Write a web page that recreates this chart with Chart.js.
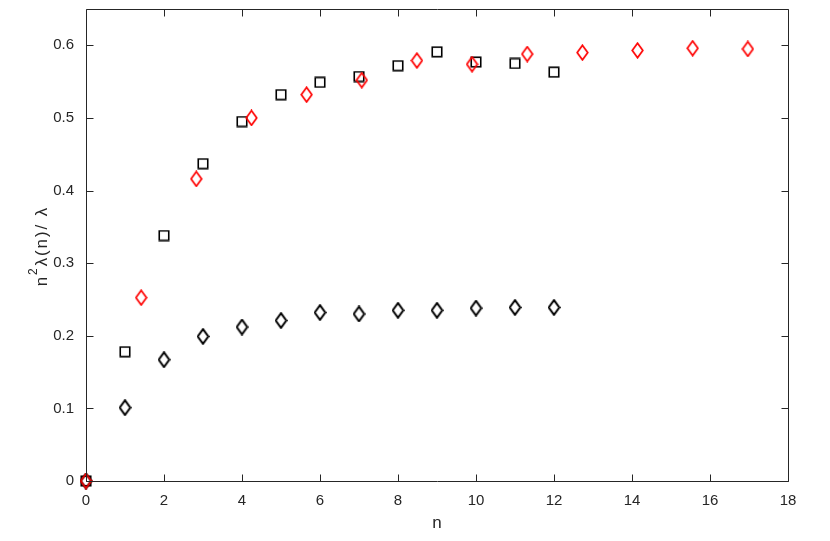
<!DOCTYPE html>
<html>
<head>
<meta charset="utf-8">
<script src="https://cdn.jsdelivr.net/npm/chart.js@4/dist/chart.umd.min.js"></script>
<style>
  html, body { margin: 0; padding: 0; background: #fff; }
  #wrap { width: 830px; height: 541px; }
</style>
</head>
<body>
<div id="wrap"><canvas id="c" width="830" height="541"></canvas></div>
<script>
// ---- data ----
const nValues = [0, 1, 2, 3, 4, 5, 6, 7, 8, 9, 10, 11, 12];
const squareValues = [0, 0.178, 0.338, 0.437, 0.495, 0.532, 0.549, 0.557, 0.572, 0.591, 0.577, 0.575, 0.563];
const blackDiamondValues = [0, 0.101, 0.167, 0.199, 0.212, 0.221, 0.232, 0.230, 0.235, 0.235, 0.238, 0.239, 0.239];
const redX = [0, 1.414, 2.828, 4.243, 5.657, 7.071, 8.485, 9.899, 11.314, 12.728, 14.142, 15.556, 16.971];
const redValues = [0, 0.2525, 0.416, 0.500, 0.532, 0.552, 0.579, 0.574, 0.588, 0.590, 0.593, 0.596, 0.595];
const xTicks = [0, 2, 4, 6, 8, 10, 12, 14, 16, 18];
const yTicks = [0, 0.1, 0.2, 0.3, 0.4, 0.5, 0.6];
const xTitle = 'n';
// y title pieces: [text, superscript?]
const yTitleParts = [['n', false], ['2', true], ['\u03BB(n)/ \u03BB', false]];

// ---- marker images ----
function squareMarker(color) {
  const c = document.createElement('canvas');
  c.width = 12; c.height = 12;
  const g = c.getContext('2d');
  g.strokeStyle = color; g.lineWidth = 1.6;
  g.strokeRect(1.25, 1.25, 9.5, 9.5);
  return c;
}
function diamondMarker(color, lw) {
  const c = document.createElement('canvas');
  c.width = 13; c.height = 17;
  const g = c.getContext('2d');
  g.strokeStyle = color; g.lineWidth = lw; g.lineJoin = 'miter';
  g.beginPath();
  g.moveTo(6.5, 1.2); g.lineTo(11.8, 8.5); g.lineTo(6.5, 15.8); g.lineTo(1.2, 8.5); g.closePath();
  g.stroke();
  return c;
}

function pts(xs, ys) { return xs.map((x, i) => ({ x: x, y: ys[i] })); }

const axisColor = '#262626';
const FONT = 'Liberation Sans, Arial, sans-serif';

const boxPlugin = {
  id: 'box',
  afterDraw(chart) {
    const ctx = chart.ctx;
    const a = chart.chartArea;
    const xs = chart.scales.x, ys = chart.scales.y;
    ctx.save();
    ctx.strokeStyle = axisColor;
    ctx.lineWidth = 1;
    const L = Math.round(a.left) + 0.5, R = Math.round(a.right) + 0.5;
    const T = Math.round(a.top) + 0.5, B = Math.round(a.bottom) + 0.5;
    ctx.beginPath();
    ctx.rect(L, T, R - L, B - T);
    const tl = 7;
    xTicks.forEach(v => {
      const px = Math.round(xs.getPixelForValue(v)) + 0.5;
      ctx.moveTo(px, B); ctx.lineTo(px, B - tl);
      ctx.moveTo(px, T); ctx.lineTo(px, T + tl);
    });
    yTicks.forEach(v => {
      const py = Math.round(ys.getPixelForValue(v)) + 0.5;
      ctx.moveTo(L, py); ctx.lineTo(L + tl, py);
      ctx.moveTo(R, py); ctx.lineTo(R - tl, py);
    });
    ctx.stroke();

    // y-axis title with a real superscript
    const mainFont = '17px ' + FONT, supFont = '12px ' + FONT;
    const gap = 1.9;
    ctx.fillStyle = axisColor;
    ctx.textBaseline = 'alphabetic';
    ctx.textAlign = 'left';
    let total = 0;
    yTitleParts.forEach(([t, sup]) => {
      ctx.font = sup ? supFont : mainFont;
      for (const ch of t) total += ctx.measureText(ch).width + gap;
    });
    total -= gap;
    ctx.translate(47, (a.top + a.bottom) / 2 + 2);
    ctx.rotate(-Math.PI / 2);
    let cx = -total / 2;
    yTitleParts.forEach(([t, sup]) => {
      ctx.font = sup ? supFont : mainFont;
      const dy = sup ? -10 : 0;
      for (const ch of t) {
        ctx.fillText(ch, cx, dy);
        cx += ctx.measureText(ch).width + gap;
      }
    });
    ctx.restore();
  }
};

new Chart(document.getElementById('c'), {
  type: 'scatter',
  data: {
    datasets: [
      { label: 'red', data: pts(redX, redValues), pointStyle: diamondMarker('#ff0000', 1.7), pointRadius: 6, borderColor: '#ff0000', backgroundColor: 'transparent', clip: false },
      { label: 'squares', data: pts(nValues, squareValues), pointStyle: squareMarker('#000000'), pointRadius: 6, borderColor: '#000', backgroundColor: 'transparent', clip: false },
      { label: 'diamonds', data: pts(nValues, blackDiamondValues), pointStyle: diamondMarker('#000000', 2), pointRadius: 6, borderColor: '#000', backgroundColor: 'transparent', clip: false }
    ]
  },
  options: {
    responsive: false,
    animation: false,
    events: [],
    layout: { padding: { top: 9, right: 42, left: 0, bottom: 0 } },
    plugins: { legend: { display: false }, tooltip: { enabled: false } },
    scales: {
      x: {
        type: 'linear', min: 0, max: 18,
        afterBuildTicks: s => { s.ticks = xTicks.map(v => ({ value: v })); },
        afterFit: s => { s.height = 60; s.paddingLeft = 0; s.paddingRight = 0; },
        grid: { display: false, drawTicks: false },
        border: { display: false },
        ticks: { color: axisColor, padding: 11, font: { family: FONT, size: 15 }, maxRotation: 0, autoSkip: false, callback: v => String(v) },
        title: { display: true, text: xTitle, color: axisColor, font: { family: FONT, size: 17 }, padding: { top: 0, bottom: 7 } }
      },
      y: {
        type: 'linear', min: 0, max: 0.65,
        afterBuildTicks: s => { s.ticks = yTicks.map(v => ({ value: v })); },
        afterFit: s => { s.width = 86; s.paddingTop = 0; s.paddingBottom = 0; },
        grid: { display: false, drawTicks: false },
        border: { display: false },
        ticks: { color: axisColor, padding: 12, font: { family: FONT, size: 15 }, autoSkip: false, callback: v => String(Math.round(v * 10) / 10) },
        title: { display: false }
      }
    }
  },
  plugins: [boxPlugin]
});
</script>
</body>
</html>
